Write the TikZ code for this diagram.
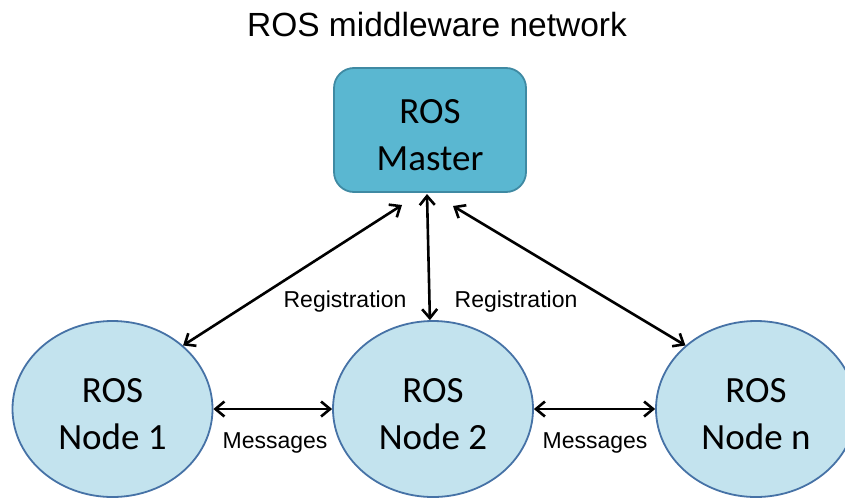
\documentclass[tikz,border=0pt]{standalone}
\usepackage{fontspec}
\setmainfont{Liberation Sans}
\newfontfamily\nodefont{Carlito}
\usetikzlibrary{shapes.geometric,arrows.meta,calc}
\definecolor{masterfill}{HTML}{5AB7D1}
\definecolor{masterdraw}{HTML}{3F8AA3}
\definecolor{nodefill}{HTML}{C3E3EE}
\definecolor{nodedraw}{HTML}{4672A6}
\newcommand{\lowstrut}{\rule{0pt}{34pt}}
\tikzset{
  masterbox/.style={draw=masterdraw, fill=masterfill, line width=1.8pt, rounded corners=20pt,
    minimum width=192pt, minimum height=124pt, inner sep=0pt, align=center,
    font=\nodefont\fontsize{37}{47}\selectfont},
  rosnode/.style={ellipse, draw=nodedraw, fill=nodefill, line width=1.8pt,
    minimum width=200pt, minimum height=176pt, inner sep=0pt, align=center,
    font=\nodefont\fontsize{37}{47}\selectfont},
  link/.style={line width=2.6pt, {Straight Barb[length=9pt,width=15pt,line width=2.6pt]}-{Straight Barb[length=9pt,width=15pt,line width=2.6pt]}},
  lbl/.style={font=\fontsize{23}{27}\selectfont, inner sep=0pt}
}
\begin{document}
\begin{tikzpicture}[x=1pt,y=-1pt]
\useasboundingbox (0,0) rectangle (845,498);
\clip (0,0) rectangle (845,498);
\node[font=\fontsize{33.5}{40}\selectfont] (title) at (437,25) {ROS middleware network};
\node[masterbox] (m) at (430,130) {\lowstrut ROS\\Master};
\node[rosnode] (n1) at (112.5,409) {\lowstrut ROS\\Node 1};
\node[rosnode] (n2) at (433,409) {\lowstrut ROS\\Node 2};
\node[rosnode] (nn) at (756,409) {\lowstrut ROS\\Node n};
\coordinate (mL) at (402,205);
\coordinate (mC) at (427,194);
\coordinate (mR) at (453,206);
\draw[link] (mL) -- (n1.42);
\draw[link] (mC) -- (n2.92);
\draw[link] (mR) -- (nn.138);
\draw[link] (n1.east) -- (n2.west);
\draw[link] (n2.east) -- (nn.west);
\node[lbl] (r1) at (345,302) {Registration};
\node[lbl] (r2) at (516,302) {Registration};
\node[lbl] (g1) at (275,443) {Messages};
\node[lbl] (g2) at (595,443) {Messages};
\end{tikzpicture}
\end{document}
